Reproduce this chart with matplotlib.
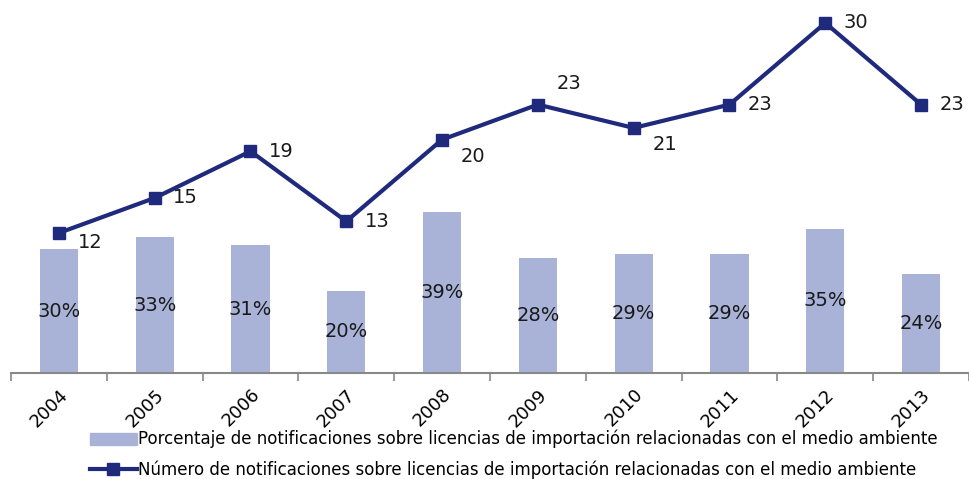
import matplotlib
matplotlib.use("Agg")
import matplotlib.pyplot as plt
import numpy as np
from matplotlib.patches import Patch
from matplotlib.lines import Line2D

years = ['2004', '2005', '2006', '2007', '2008', '2009', '2010', '2011', '2012', '2013']
porcentaje = [30, 33, 31, 20, 39, 28, 29, 29, 35, 24]
numero = [12, 15, 19, 13, 20, 23, 21, 23, 30, 23]
# vertical shift of each line label (pixels, + is up)
label_dy = [-10, 0, 0, 0, -17, 21, -17, 0, 0, 0]

bar_color = '#a9b3d8'
line_color = '#1f2a7c'

fig = plt.figure(figsize=(9.70, 4.79), dpi=100)
ax = fig.add_axes([11/970, 1 - 373/479, 958/970, 368/479])
idx = np.arange(len(years))

ax.bar(idx, porcentaje, width=0.4, color=bar_color)
ax.set_ylim(0, 368/4.12)
ax.set_xlim(-0.5, 9.414)
for i, v in enumerate(porcentaje):
    ax.text(i, v/2, str(v) + '%', ha='center', va='center', fontsize=14, color='#1a1a1a')

ax2 = ax.twinx()
ax2.plot(idx, numero, color=line_color, lw=3, marker='s', markersize=9)
ax2.set_ylim(0, 368/11.67)
for i, v in enumerate(numero):
    ax2.annotate(str(v), (i, v), xytext=(31, label_dy[i]), textcoords='offset pixels',
                 ha='center', va='center', fontsize=14, color='#1a1a1a')

for a in (ax, ax2):
    for s in ['top', 'right', 'left']:
        a.spines[s].set_visible(False)
    a.set_yticks([])
ax2.spines['bottom'].set_visible(False)
ax.spines['bottom'].set_color('#888888')
ax.spines['bottom'].set_linewidth(1.5)

ax.set_xticks(idx)
ax.set_xticklabels(years, rotation=45, ha='right', rotation_mode='anchor', fontsize=13)
ax.tick_params(axis='x', length=0, pad=9)
ax.set_xticks(np.arange(-0.5, 10, 1), minor=True)
ax.tick_params(axis='x', which='minor', length=6, width=1.2, color='#888888')

handles = [Patch(color=bar_color),
           Line2D([0], [0], color=line_color, lw=3, marker='s', markersize=9)]
labels = ['Porcentaje de notificaciones sobre licencias de importación relacionadas con el medio ambiente',
          'Número de notificaciones sobre licencias de importación relacionadas con el medio ambiente']
fig.legend(handles, labels, loc='upper left', bbox_to_anchor=(90/970, 1 - 430/479),
           frameon=False, fontsize=12, handlelength=2.8, handletextpad=0.1,
           labelspacing=0.7, borderpad=0, borderaxespad=0)

fig.savefig('out.png', dpi=100)
